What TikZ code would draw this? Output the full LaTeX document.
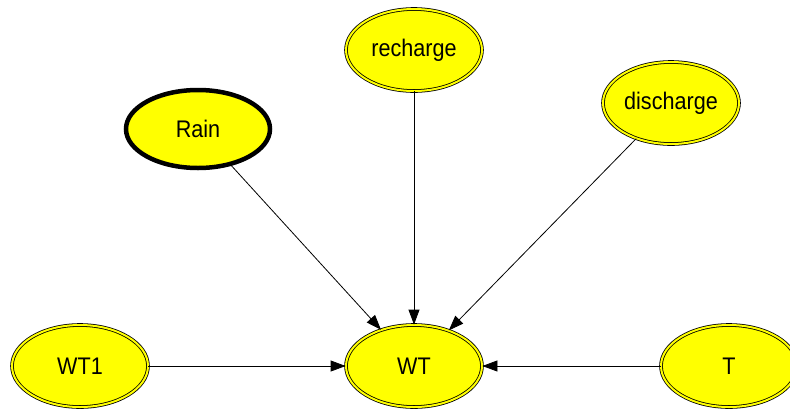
\documentclass[tikz,border=0pt]{standalone}
\usepackage{fontspec}
\setmainfont{Liberation Sans}
\newfontfamily\nodefont[FakeStretch=0.9]{Liberation Sans}
\usetikzlibrary{shapes.geometric,arrows.meta}
\definecolor{nodeyellow}{RGB}{255,255,0}
\begin{document}
\begin{tikzpicture}[x=1pt,y=-1pt,
  varnode/.style={ellipse,draw=black,fill=nodeyellow,double=nodeyellow,double distance=2pt,line width=0.8pt,
    minimum width=136pt,minimum height=82pt,inner sep=0pt,font=\nodefont\fontsize{24}{26}\selectfont},
  rainnode/.style={ellipse,draw=black,fill=nodeyellow,line width=4.5pt,
    minimum width=144pt,minimum height=78pt,inner sep=0pt,font=\nodefont\fontsize{24}{26}\selectfont},
  link/.style={draw=black,line width=0.8pt,-{Triangle[length=15pt,width=11pt]}}]
\fill[white] (0,0) rectangle (790,416);
\useasboundingbox (0,0) rectangle (790,416);
\clip (0,0) rectangle (790,416);
\node[rainnode] (rain) at (198,129) {Rain};
\node[varnode] (recharge) at (414,50) {recharge};
\node[varnode] (discharge) at (671,103) {discharge};
\node[varnode] (wt) at (414,366) {WT};
\node[varnode] (wt1) at (80,366) {WT1};
\node[varnode] (t) at (729,366) {T};
\draw[link] (rain) -- (wt);
\draw[link] (recharge) -- (wt);
\draw[link] (discharge) -- (wt);
\draw[link] (wt1) -- (wt);
\draw[link] (t) -- (wt);
\end{tikzpicture}
\end{document}
